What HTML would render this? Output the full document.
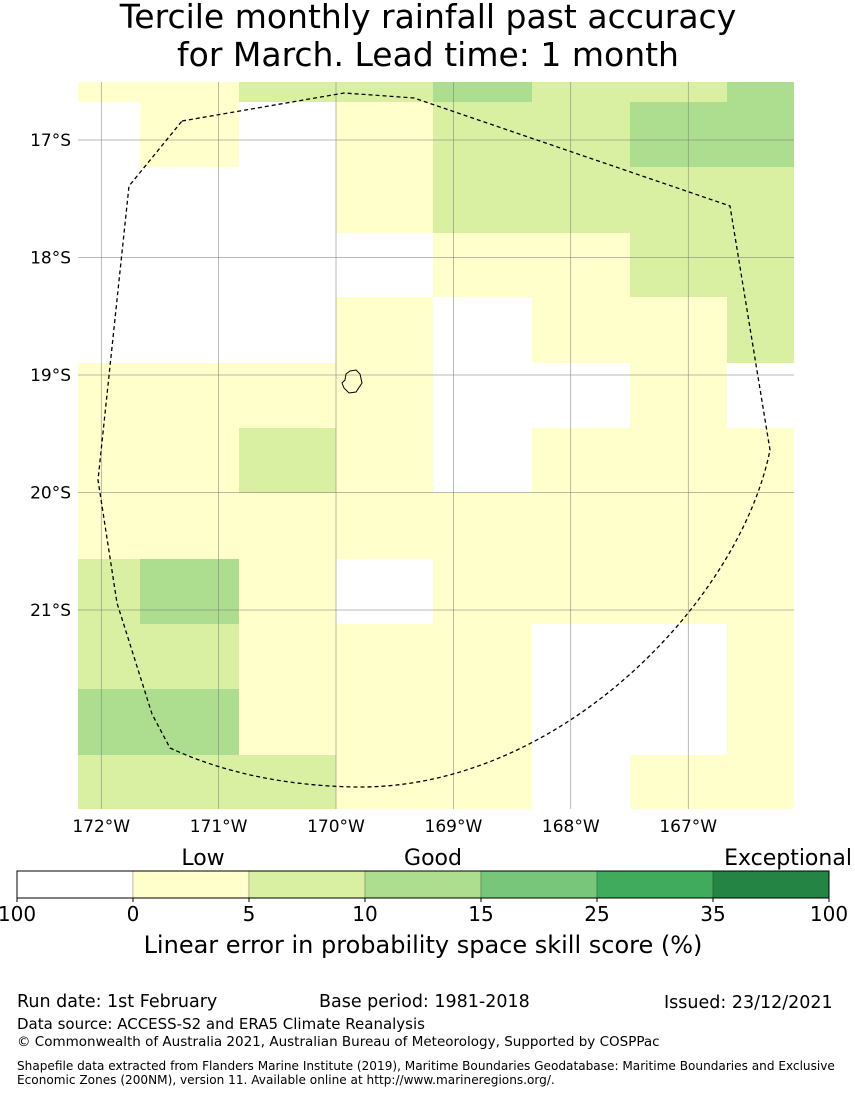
<!DOCTYPE html>
<html><head><meta charset="utf-8"><style>
body{margin:0;background:#fff;font-family:"DejaVu Sans","Liberation Sans",sans-serif;}
svg text{font-family:"DejaVu Sans","Liberation Sans",sans-serif;fill:#000}
</style></head><body>
<svg id="chart" width="855" height="1095" viewBox="0 0 855 1095" xmlns="http://www.w3.org/2000/svg">
<text x="428" y="28" font-size="33" text-anchor="middle">Tercile monthly rainfall past accuracy</text>
<text x="428" y="66" font-size="33" text-anchor="middle">for March. Lead time: 1 month</text>
<g id="cells"></g>
<g id="grid"></g>
<path d="M182,121 L344,93 L414,98 L730,206 L770,450 C740,600 560,790 355,787 Q250,785 170,748 L152,714 L117,603 L98,480 L129,186 Z" fill="none" stroke="#000" stroke-width="1.3" stroke-dasharray="4,3"/>
<path d="M350,371 L356,370 L360,374 L362,383 L356,392 L349,393 L344,388 L342,383 L345,380 L346,374 Z" fill="none" stroke="#000" stroke-width="1"/>
<g id="axes"></g>
<g id="cbar"></g>
<text x="203" y="865" font-size="22" text-anchor="middle">Low</text>
<text x="433" y="865" font-size="22" text-anchor="middle">Good</text>
<text x="788" y="865" font-size="22" text-anchor="middle">Exceptional</text>
<text x="423" y="953" font-size="24" text-anchor="middle">Linear error in probability space skill score (%)</text>
<text x="17" y="1007" font-size="17.5">Run date: 1st February</text>
<text x="319" y="1007" font-size="17.5">Base period: 1981-2018</text>
<text x="664" y="1008" font-size="17.5">Issued: 23/12/2021</text>
<text x="17" y="1029" font-size="15">Data source: ACCESS-S2 and ERA5 Climate Reanalysis</text>
<text x="17" y="1046" font-size="13.5">© Commonwealth of Australia 2021, Australian Bureau of Meteorology, Supported by COSPPac</text>
<text x="17" y="1070" font-size="12.1">Shapefile data extracted from Flanders Marine Institute (2019), Maritime Boundaries Geodatabase: Maritime Boundaries and Exclusive</text>
<text x="17" y="1084" font-size="12.1">Economic Zones (200NM), version 11. Available online at http://www.marineregions.org/.</text>
</svg>
<script>
const colors=["#ffffff","#ffffcc","#d9f0a3","#addd8e","#78c679","#41ab5d","#238443"];
const cbarTicks=["100","0","5","10","15","25","35","100"];
const colEdges=[-172.2,-171.67,-170.83,-170,-169.17,-168.33,-167.5,-166.67,-166.1];
const rowEdges=[-16.506,-16.677,-17.23,-17.79,-18.34,-18.9,-19.45,-20,-20.57,-21.12,-21.67,-22.23,-22.69];
const grid=[
[1,1,2,2,3,2,2,3],
[0,1,0,1,2,2,3,3],
[0,0,0,1,2,2,2,2],
[0,0,0,0,1,1,2,2],
[0,0,0,1,0,1,1,2],
[1,1,1,1,0,0,1,0],
[1,1,2,1,0,1,1,1],
[1,1,1,1,1,1,1,1],
[2,3,1,0,1,1,1,1],
[2,2,1,1,1,0,0,1],
[3,3,1,1,1,0,0,1],
[2,2,2,1,1,0,1,1]];
const lonTicks=[-172,-171,-170,-169,-168,-167];
const latTicks=[-17,-18,-19,-20,-21];
const NS="http://www.w3.org/2000/svg";
const X=lon=>336+(lon+170)*117.4;
const Y=lat=>375+(-19-lat)*117.5;
function mk(t,a,p){const e=document.createElementNS(NS,t);for(const k in a)e.setAttribute(k,a[k]);p.appendChild(e);return e;}
const cellsG=document.getElementById('cells');
grid.forEach((row,r)=>row.forEach((v,c)=>{
 const x0=Math.round(X(colEdges[c])),x1=Math.round(X(colEdges[c+1]));
 const y0=Math.round(Y(rowEdges[r])),y1=Math.round(Y(rowEdges[r+1]));
 const e=mk('rect',{x:x0,y:y0,width:x1-x0,height:y1-y0,fill:colors[v]},cellsG);
 
 
}));
const gridG=document.getElementById('grid'),axG=document.getElementById('axes');
const mapTop=82,mapBot=809,mapLeft=78,mapRight=794;
lonTicks.forEach(l=>{
 const x=X(l);
 const ln=mk('line',{x1:x,x2:x,y1:mapTop,y2:mapBot,stroke:'#777',"stroke-width":0.5},gridG);
 
 
 const t=mk('text',{x:x,y:832,"font-size":17,"text-anchor":"middle"},axG);
 t.textContent=Math.abs(l)+"°W";
 
 
});
latTicks.forEach(l=>{
 const y=Y(l);
 const ln=mk('line',{x1:mapLeft,x2:mapRight,y1:y,y2:y,stroke:'#777',"stroke-width":0.5},gridG);
 
 
 const t=mk('text',{x:71,y:y+6,"font-size":17,"text-anchor":"end"},axG);
 t.textContent=Math.abs(l)+"°S";
 
 
});
const cb=document.getElementById('cbar');
const cx0=17,cw=116,cy=871,ch=27;
colors.forEach((c,i)=>{
 const e=mk('rect',{x:cx0+i*cw,y:cy,width:cw,height:ch,fill:c,stroke:'rgba(0,0,0,0.25)',"stroke-width":0.8},cb);
 
 
});
mk('rect',{x:cx0,y:cy,width:cw*7,height:ch,fill:'none',stroke:'#000',"stroke-width":1},cb);
cbarTicks.forEach((t,i)=>{
 const x=cx0+i*cw;
 mk('line',{x1:x,x2:x,y1:cy+ch,y2:cy+ch+4,stroke:'#000'},cb);
 const e=mk('text',{x:x,y:921,"font-size":20,"text-anchor":"middle"},cb);
 e.textContent=t;
 
 
});
</script>
</body></html>
